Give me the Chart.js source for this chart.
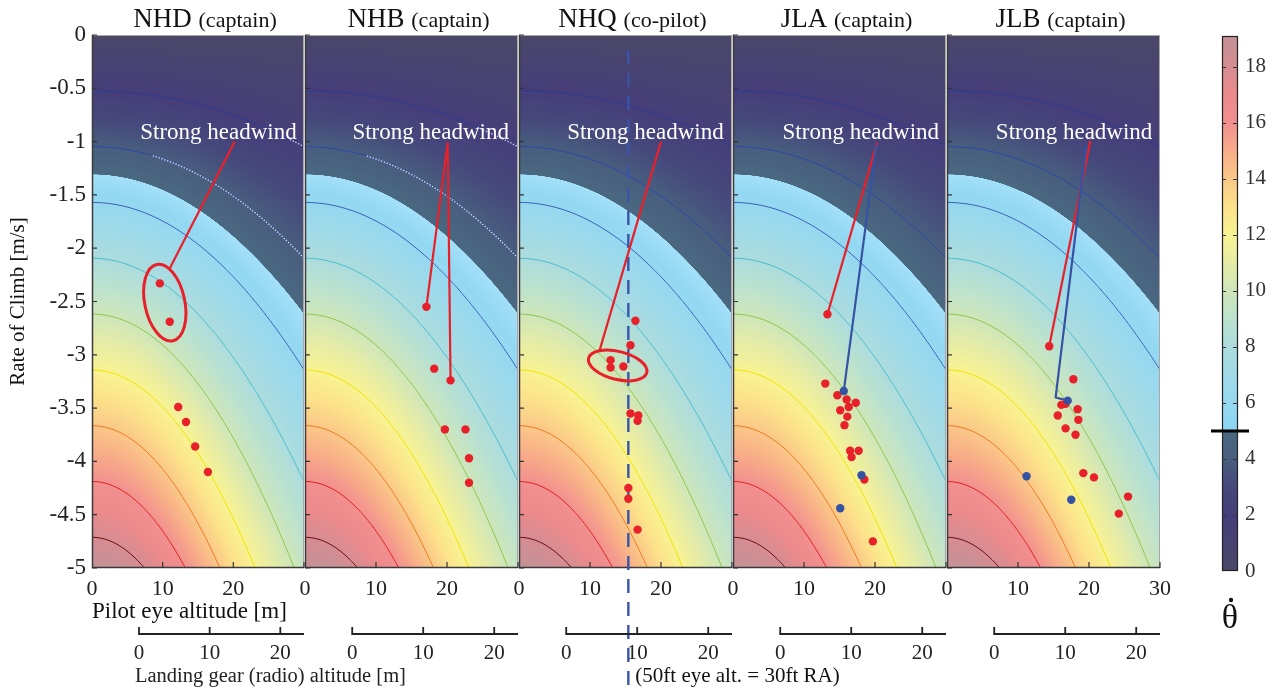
<!DOCTYPE html>
<html>
<head>
<meta charset="utf-8">
<script src="https://cdn.jsdelivr.net/npm/chart.js@4.4.1/dist/chart.umd.min.js"></script>
<style>
html, body { margin: 0; padding: 0; background: #fff; overflow: hidden; }
#wrap { position: relative; width: 1279px; height: 693px; }
#wrap canvas { position: absolute; left: 0; top: 0; }
</style>
</head>
<body>
<div id="wrap"></div>
<script>
'use strict';

// ---- data ----
const panelNames = ['NHD', 'NHB', 'NHQ', 'JLA', 'JLB'];
const panelRoles = ['(captain)', '(captain)', '(co-pilot)', '(captain)', '(captain)'];

// [pilot eye altitude m, rate of climb m/s]
const redPoints = [
    [[9.6, -2.33], [11.0, -2.69], [12.2, -3.49], [13.3, -3.63], [14.6, -3.86], [16.4, -4.10]],
    [[17.1, -2.55], [18.2, -3.13], [20.5, -3.24], [19.7, -3.70], [22.6, -3.70], [23.1, -3.97], [23.1, -4.20]],
    [[16.4, -2.68], [15.7, -2.91], [12.9, -3.05], [12.9, -3.12], [14.7, -3.11], [15.7, -3.55], [16.8, -3.57],
     [16.7, -3.62], [15.4, -4.25], [15.4, -4.35], [16.7, -4.64]],
    [[13.3, -2.62], [13.0, -3.27], [14.7, -3.38], [16.0, -3.42], [17.3, -3.45], [16.3, -3.49], [15.1, -3.52],
     [16.1, -3.58], [15.7, -3.66], [16.5, -3.90], [17.7, -3.90], [16.7, -3.96], [18.5, -4.17], [19.7, -4.75]],
    [[14.4, -2.92], [17.8, -3.23], [16.1, -3.47], [16.7, -3.46], [18.4, -3.51], [15.6, -3.57], [18.5, -3.61],
     [16.7, -3.69], [18.1, -3.75], [19.2, -4.11], [20.7, -4.15], [25.5, -4.33], [24.2, -4.49]]
];
const bluePoints = [
    [],
    [],
    [],
    [[15.6, -3.34], [18.1, -4.13], [15.1, -4.44]],
    [[17.0, -3.43], [11.2, -4.14], [17.5, -4.36]]
];

// "Strong headwind" pointer lines
const redPointers = [
    [[[20.2, -1.0], [11.0, -2.19]]],
    [[[20.1, -1.01], [17.1, -2.55]], [[20.1, -1.01], [20.5, -3.24]]],
    [[[20.0, -1.0], [11.3, -2.97]]],
    [[[20.3, -1.01], [13.3, -2.62]]],
    [[[20.2, -0.99], [14.4, -2.92]]]
];
const bluePointers = [
    [], [], [],
    [[[20.2, -1.03], [15.6, -3.34]]],
    [[[19.6, -1.04], [15.3, -3.40], [17.0, -3.43]]]
];
const headwindLabelX = [17.9, 17.7, 17.8, 18.0, 17.9];
const headwindLabelY = -0.92;

// ellipses: [panel, centre alt, centre roc]
const ringPanels = [0, 2];
const ringCentres = [[10.3, -2.51], [13.9, -3.10]];

// 50 ft eye altitude marker (panel NHQ)
const eyeMarkPanel = 2;
const eyeMarkAlt = 15.4;

// pilot eye height above landing gear, m
const eyeAboveGear = 6.65;
const gearTicks = [0, 10, 20];

// theta-dot field: gain (per m/s) and altitude scale (m)
const thetaGain = 3.82;
const altScale = 30;
const contourLevels = [2, 4, 6, 8, 10, 12, 14, 16, 18];
const contourColors = ['#2d3d90', '#3047a6', '#3a63bd', '#4cbfd0', '#8fc74f', '#f0e400', '#f07a22', '#e0231e', '#6a1212'];
const dimLimit = 5;
// contour parts drawn dotted white: [level, from altitude] per panel
const dottedParts = [
    [[2, 28.0], [4, 8.6]],
    [[2, 24.3], [4, 8.7]],
    [], [], []
];

// colour map
const cmapStops = [0, 1, 2, 3, 4, 4.99, 5, 6, 7, 8, 9, 10, 11, 12, 13, 14, 15, 16, 17, 18, 19.1];
const cmapColors = [
    [74, 72, 104], [72, 66, 114], [70, 62, 122], [70, 72, 124], [72, 94, 126], [74, 104, 128],
    [138, 214, 246], [150, 216, 240], [160, 218, 232], [172, 220, 222], [188, 226, 206],
    [206, 230, 186], [230, 236, 166], [248, 242, 146], [252, 226, 138], [250, 200, 136],
    [248, 172, 136], [242, 144, 144], [236, 138, 140], [214, 140, 146], [196, 146, 150]
];
const colorbarTicks = [0, 2, 4, 6, 8, 10, 12, 14, 16, 18];

// ---- layout ----
const W = 1279, H = 693;
const panelLeft = [92, 305, 519, 733, 947];
const panelRight = [304, 518, 732, 946, 1160];
const plotTop = 35, plotBottom = 568;
const SERIF = "'Liberation Serif', 'Times New Roman', serif";
const RED = '#e8202a';
const BLUE = '#3552a3';

Chart.defaults.font.family = SERIF;

function thetaDot(alt, roc) {
    return thetaGain * Math.abs(roc) / (1 + (alt / altScale) * (alt / altScale));
}

function contourRoc(level, alt) {
    return -level * (1 + (alt / altScale) * (alt / altScale)) / thetaGain;
}

function cmap(v) {
    if (v <= cmapStops[0]) return cmapColors[0];
    for (let j = 1; j < cmapStops.length; j++) {
        if (v <= cmapStops[j]) {
            const t = (v - cmapStops[j - 1]) / (cmapStops[j] - cmapStops[j - 1]);
            const a = cmapColors[j - 1], b = cmapColors[j];
            return [a[0] + (b[0] - a[0]) * t, a[1] + (b[1] - a[1]) * t, a[2] + (b[2] - a[2]) * t];
        }
    }
    return cmapColors[cmapColors.length - 1];
}

function fieldColor(v) {
    let c = cmap(v);
    if (v >= dimLimit && v < dimLimit + 0.7) {
        const g = 0.22 * (1 - (v - dimLimit) / 0.7);
        c = [c[0] + (255 - c[0]) * g, c[1] + (255 - c[1]) * g, c[2] + (255 - c[2]) * g];
    }
    return c;
}

function traceContour(ctx, chart, level, fromAlt) {
    const {chartArea: a, scales: {x, y}} = chart;
    const start = Math.max(a.left, x.getPixelForValue(fromAlt));
    ctx.beginPath();
    for (let px = start; px <= a.right + 1; px += 1) {
        const py = y.getPixelForValue(contourRoc(level, x.getValueForPixel(px)));
        if (px === start) ctx.moveTo(px, py); else ctx.lineTo(px, py);
    }
}

const fieldPlugin = {
    id: 'field',
    beforeDatasetsDraw(chart) {
        const {ctx, chartArea: a, scales: {x, y}} = chart;
        const x0 = Math.round(a.left), y0 = Math.round(a.top);
        const w = Math.round(a.right) - x0, h = Math.round(a.bottom) - y0;
        const img = ctx.createImageData(w, h);
        for (let j = 0; j < h; j++) {
            const roc = y.getValueForPixel(y0 + j + 0.5);
            for (let i = 0; i < w; i++) {
                const alt = x.getValueForPixel(x0 + i + 0.5);
                const c = fieldColor(thetaDot(alt, roc));
                const k = 4 * (j * w + i);
                img.data[k] = c[0];
                img.data[k + 1] = c[1];
                img.data[k + 2] = c[2];
                img.data[k + 3] = 255;
            }
        }
        ctx.putImageData(img, x0, y0);

        ctx.save();
        ctx.beginPath();
        ctx.rect(a.left, a.top, a.right - a.left, a.bottom - a.top);
        ctx.clip();
        contourLevels.forEach((lev, j) => {
            traceContour(ctx, chart, lev, 0);
            ctx.strokeStyle = contourColors[j];
            ctx.lineWidth = 1;
            ctx.stroke();
        });
        ctx.restore();
    }
};

function drawPolyline(ctx, chart, pts, color) {
    const {x, y} = chart.scales;
    ctx.beginPath();
    pts.forEach((p, k) => {
        const px = x.getPixelForValue(p[0]), py = y.getPixelForValue(p[1]);
        if (k === 0) ctx.moveTo(px, py); else ctx.lineTo(px, py);
    });
    ctx.strokeStyle = color;
    ctx.lineWidth = 2.2;
    ctx.lineJoin = 'round';
    ctx.stroke();
}

function makePanelPlugin(i) {
    return {
        id: 'panelDecor' + i,
        beforeDatasetsDraw(chart) {
            const {ctx, chartArea: a, scales: {x, y}} = chart;
            ctx.save();
            // dotted contour parts
            ctx.save();
            ctx.beginPath();
            ctx.rect(a.left, a.top, a.right - a.left, a.bottom - a.top);
            ctx.clip();
            dottedParts[i].forEach(d => {
                traceContour(ctx, chart, d[0], d[1]);
                ctx.setLineDash([1.5, 1.5]);
                ctx.strokeStyle = 'rgba(235,240,255,0.85)';
                ctx.lineWidth = 1.3;
                ctx.stroke();
            });
            ctx.restore();

            // frame
            ctx.lineWidth = 1;
            ctx.strokeStyle = '#a8a8a8';
            ctx.beginPath();
            ctx.moveTo(a.left, a.top + 0.5); ctx.lineTo(a.right, a.top + 0.5);
            ctx.moveTo(a.right - 0.5, a.top); ctx.lineTo(a.right - 0.5, a.bottom);
            ctx.stroke();
            ctx.strokeStyle = '#3a3a3a';
            ctx.lineWidth = 1.5;
            ctx.beginPath();
            ctx.moveTo(a.left + 0.5, a.top); ctx.lineTo(a.left + 0.5, a.bottom);
            ctx.moveTo(a.left, a.bottom - 0.5); ctx.lineTo(a.right, a.bottom - 0.5);
            ctx.stroke();
            // inward ticks
            ctx.strokeStyle = '#333';
            ctx.lineWidth = 1.2;
            ctx.beginPath();
            y.ticks.forEach(t => {
                const py = y.getPixelForValue(t.value);
                ctx.moveTo(a.left, py); ctx.lineTo(a.left + 5, py);
            });
            x.ticks.forEach(t => {
                if (t.value === 0) return;
                const px = x.getPixelForValue(t.value);
                ctx.moveTo(px, a.bottom); ctx.lineTo(px, a.bottom - 6);
            });
            ctx.stroke();

            // dashed 50 ft marker
            if (i === eyeMarkPanel) {
                const px = x.getPixelForValue(eyeMarkAlt);
                ctx.beginPath();
                ctx.setLineDash([14, 9]);
                ctx.moveTo(px, a.top + 15); ctx.lineTo(px, 686);
                ctx.strokeStyle = '#3a55a8';
                ctx.lineWidth = 2.4;
                ctx.stroke();
                ctx.setLineDash([]);
                ctx.fillStyle = '#111';
                ctx.font = '21px ' + SERIF;
                ctx.textAlign = 'left';
                ctx.textBaseline = 'middle';
                ctx.fillText('(50ft eye alt. = 30ft RA)', px + 7, 676);
            }

            // pointer lines
            redPointers[i].forEach(p => drawPolyline(ctx, chart, p, RED));
            bluePointers[i].forEach(p => drawPolyline(ctx, chart, p, BLUE));

            // ellipses
            ringPanels.forEach((rp, k) => {
                if (rp !== i) return;
                const cx = x.getPixelForValue(ringCentres[k][0]);
                const cy = y.getPixelForValue(ringCentres[k][1]);
                ctx.beginPath();
                if (k === 0) ctx.ellipse(cx, cy, 20, 39, -12 * Math.PI / 180, 0, 2 * Math.PI);
                else ctx.ellipse(cx, cy, 30, 14, 14 * Math.PI / 180, 0, 2 * Math.PI);
                ctx.strokeStyle = RED;
                ctx.lineWidth = 3;
                ctx.stroke();
            });
            ctx.restore();
        },
        afterDatasetsDraw(chart) {
            const {ctx, chartArea: a, scales: {x, y, x2}} = chart;
            ctx.save();
            // annotation text
            ctx.fillStyle = '#fff';
            ctx.font = '23px ' + SERIF;
            ctx.textAlign = 'center';
            ctx.textBaseline = 'middle';
            ctx.fillText('Strong headwind', x.getPixelForValue(headwindLabelX[i]), y.getPixelForValue(headwindLabelY));

            // panel title
            const cx = (a.left + a.right) / 2 + 7;
            ctx.fillStyle = '#111';
            ctx.textBaseline = 'alphabetic';
            ctx.textAlign = 'left';
            ctx.font = '27px ' + SERIF;
            const w1 = ctx.measureText(panelNames[i] + ' ').width;
            ctx.font = '22px ' + SERIF;
            const w2 = ctx.measureText(panelRoles[i]).width;
            const sx = cx - (w1 + w2) / 2;
            ctx.font = '27px ' + SERIF;
            ctx.fillText(panelNames[i] + ' ', sx, 27);
            ctx.font = '22px ' + SERIF;
            ctx.fillText(panelRoles[i], sx + w1, 27);

            // landing gear (radio) altitude axis
            const yAx = 634;
            ctx.strokeStyle = '#222';
            ctx.lineWidth = 1.8;
            ctx.beginPath();
            ctx.moveTo(x2.getPixelForValue(gearTicks[0]), yAx);
            ctx.lineTo(a.right, yAx);
            gearTicks.forEach(t => {
                const px = x2.getPixelForValue(t);
                ctx.moveTo(px, yAx + 0.9);
                ctx.lineTo(px, yAx - 7);
            });
            ctx.stroke();
            ctx.fillStyle = '#222';
            ctx.font = '21px ' + SERIF;
            ctx.textAlign = 'center';
            ctx.textBaseline = 'middle';
            gearTicks.forEach(t => ctx.fillText(String(t), x2.getPixelForValue(t), yAx + 19));
            if (i === 0) {
                ctx.textAlign = 'left';
                ctx.font = '20.5px ' + SERIF;
                ctx.fillText('Landing gear (radio) altitude [m]', 135, 677);
            }
            ctx.restore();
        }
    };
}

const wrap = document.getElementById('wrap');

function addCanvas() {
    const c = document.createElement('canvas');
    c.width = W;
    c.height = H;
    c.style.width = W + 'px';
    c.style.height = H + 'px';
    wrap.appendChild(c);
    return c;
}

function toXY(list) {
    return list.map(p => ({x: p[0], y: p[1]}));
}

panelNames.forEach((name, i) => {
    const first = i === 0;
    const last = i === panelNames.length - 1;
    new Chart(addCanvas(), {
        type: 'scatter',
        data: {
            datasets: [
                {data: toXY(bluePoints[i]), backgroundColor: BLUE, borderWidth: 0, pointRadius: 4.2},
                {data: toXY(redPoints[i]), backgroundColor: RED, borderWidth: 0, pointRadius: 4.2}
            ]
        },
        options: {
            responsive: false,
            animation: false,
            events: [],
            layout: {padding: {left: first ? 0 : panelLeft[i], right: W - panelRight[i], top: plotTop, bottom: 0}},
            scales: {
                x: {
                    type: 'linear', min: 0, max: 30,
                    afterFit: s => { s.height = H - plotBottom; },
                    grid: {display: false, drawTicks: false},
                    border: {display: false},
                    ticks: {
                        stepSize: 10, padding: 8, color: '#222',
                        font: {size: 22, family: SERIF},
                        callback: v => (v === 30 && !last) ? '' : String(v)
                    },
                    title: {
                        display: first, text: 'Pilot eye altitude [m]', align: 'start',
                        color: '#111', font: {size: 23, family: SERIF},
                        padding: {top: 0, bottom: 67}
                    }
                },
                x2: {
                    type: 'linear', display: false, position: 'bottom',
                    min: -eyeAboveGear, max: 30 - eyeAboveGear
                },
                y: {
                    type: 'linear', min: -5, max: 0, display: first,
                    afterFit: first ? (s => { s.width = panelLeft[0]; }) : undefined,
                    grid: {display: false, drawTicks: false},
                    border: {display: false},
                    ticks: {
                        stepSize: 0.5, padding: 6, color: '#222',
                        font: {size: 23, family: SERIF},
                        callback: v => String(+v.toFixed(1))
                    },
                    title: {
                        display: true, text: 'Rate of Climb [m/s]', color: '#111',
                        font: {size: 21, family: SERIF},
                        padding: {top: 6, bottom: 0}
                    }
                }
            },
            plugins: {legend: {display: false}, tooltip: {enabled: false}}
        },
        plugins: [fieldPlugin, makePanelPlugin(i)]
    });
});

// colour bar
const colorbarPlugin = {
    id: 'colorbar',
    beforeDatasetsDraw(chart) {
        const {ctx, chartArea: a, scales: {y}} = chart;
        ctx.save();
        for (let py = Math.round(a.top); py < Math.round(a.bottom); py++) {
            const c = cmap(y.getValueForPixel(py + 0.5));
            ctx.fillStyle = 'rgb(' + c.map(Math.round).join(',') + ')';
            ctx.fillRect(a.left, py, a.right - a.left, 1);
        }
        ctx.strokeStyle = '#222';
        ctx.lineWidth = 1.2;
        ctx.strokeRect(a.left + 0.5, a.top + 0.5, a.right - a.left - 1, a.bottom - a.top - 1);
        ctx.strokeStyle = '#333';
        ctx.lineWidth = 1;
        ctx.beginPath();
        colorbarTicks.forEach(t => {
            if (t === 0) return;
            const py = Math.round(y.getPixelForValue(t)) + 0.5;
            ctx.moveTo(a.left, py); ctx.lineTo(a.left + 4, py);
            ctx.moveTo(a.right - 5, py); ctx.lineTo(a.right, py);
        });
        ctx.stroke();
        // threshold marker
        const p5 = y.getPixelForValue(dimLimit);
        ctx.strokeStyle = '#000';
        ctx.lineWidth = 3;
        ctx.beginPath();
        ctx.moveTo(a.left - 11, p5); ctx.lineTo(a.right + 11, p5);
        ctx.stroke();
        // theta-dot label
        const cx = (a.left + a.right) / 2;
        ctx.fillStyle = '#111';
        ctx.font = '34px ' + SERIF;
        ctx.textAlign = 'center';
        ctx.textBaseline = 'middle';
        ctx.fillText('\u03B8', cx, 619);
        ctx.beginPath();
        ctx.arc(cx + 1, 600, 2.2, 0, 2 * Math.PI);
        ctx.fill();
        ctx.restore();
    }
};

new Chart(addCanvas(), {
    type: 'scatter',
    data: {datasets: [{data: []}]},
    options: {
        responsive: false,
        animation: false,
        events: [],
        layout: {padding: {left: 1222, right: 0, top: 36, bottom: H - 571}},
        scales: {
            x: {type: 'linear', display: false, min: 0, max: 1},
            y: {
                type: 'linear', position: 'right', min: 0, max: 19.1,
                afterFit: s => { s.width = W - 1238; },
                grid: {display: false, drawTicks: false},
                border: {display: false},
                afterBuildTicks: s => { s.ticks = colorbarTicks.map(v => ({value: v})); },
                ticks: {padding: 7, color: '#333', font: {size: 21, family: SERIF}}
            }
        },
        plugins: {legend: {display: false}, tooltip: {enabled: false}}
    },
    plugins: [colorbarPlugin]
});
</script>
</body>
</html>
